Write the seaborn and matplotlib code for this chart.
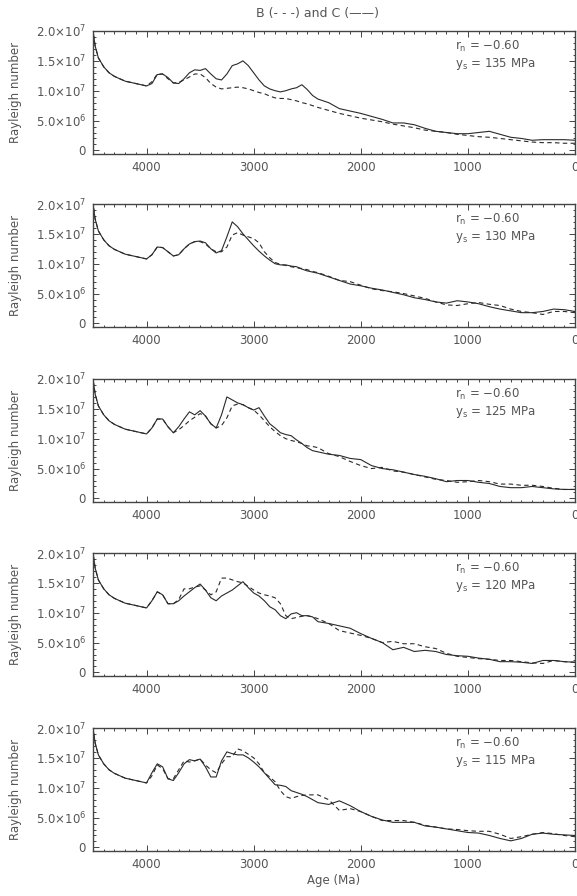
import seaborn as sns
from matplotlib import pyplot as plt
from matplotlib.ticker import MultipleLocator
import pandas as pd
import numpy as np

# ages in Ma (x axis)
AGE = [4500, 4480, 4450, 4400, 4350, 4300, 4200, 4100, 4000,
       3950, 3900, 3850, 3800, 3750, 3700, 3650, 3600, 3550, 3500,
       3450, 3400, 3350, 3300, 3250, 3200, 3150, 3100, 3050, 3000,
       2950, 2900, 2850, 2800, 2750, 2700, 2650, 2600, 2550, 2500,
       2450, 2400,
       2300, 2200, 2100, 2000, 1900, 1800, 1700, 1600, 1500, 1400,
       1300, 1200, 1100, 1000, 900, 800, 700, 600, 500, 400,
       300, 200, 100, 0]

# Rayleigh number, units of 1e7
HEAD = [2.00, 1.75, 1.55, 1.40, 1.30, 1.24, 1.16, 1.12, 1.08]

c_135 = HEAD + [1.12, 1.27, 1.28, 1.22, 1.13, 1.12, 1.20, 1.30, 1.35, 1.34,
                1.37, 1.28, 1.20, 1.18, 1.28, 1.42, 1.45, 1.50, 1.42, 1.30,
                1.18, 1.08, 1.03, 1.00, 0.98, 1.00, 1.03, 1.05, 1.10, 1.02,
                0.92, 0.86,
                0.80, 0.70, 0.66, 0.62, 0.57, 0.52, 0.46, 0.46, 0.43, 0.37,
                0.32, 0.30, 0.28, 0.28, 0.30, 0.32, 0.27, 0.22, 0.20, 0.17,
                0.18, 0.18, 0.18, 0.17]
b_135 = HEAD + [1.15, 1.28, 1.28, 1.20, 1.13, 1.14, 1.18, 1.23, 1.28, 1.28,
                1.22, 1.12, 1.06, 1.03, 1.04, 1.05, 1.06, 1.05, 1.03, 1.00,
                0.97, 0.95, 0.91, 0.88, 0.87, 0.87, 0.85, 0.83, 0.80, 0.78,
                0.75, 0.72,
                0.67, 0.62, 0.58, 0.54, 0.51, 0.48, 0.44, 0.41, 0.38, 0.34,
                0.32, 0.30, 0.27, 0.25, 0.23, 0.22, 0.20, 0.18, 0.16, 0.14,
                0.13, 0.13, 0.12, 0.12]

c_130 = HEAD + [1.15, 1.28, 1.27, 1.20, 1.13, 1.15, 1.25, 1.33, 1.37, 1.38,
                1.35, 1.25, 1.18, 1.22, 1.45, 1.70, 1.62, 1.50, 1.40, 1.30,
                1.21, 1.13, 1.06, 1.00, 0.98, 0.98, 0.96, 0.95, 0.91, 0.88,
                0.86, 0.84,
                0.78, 0.72, 0.66, 0.63, 0.59, 0.56, 0.52, 0.48, 0.43, 0.40,
                0.36, 0.34, 0.38, 0.36, 0.33, 0.28, 0.24, 0.21, 0.18, 0.18,
                0.20, 0.24, 0.23, 0.20]
b_130 = HEAD + [1.15, 1.28, 1.27, 1.20, 1.13, 1.15, 1.25, 1.33, 1.37, 1.37,
                1.33, 1.25, 1.20, 1.20, 1.28, 1.48, 1.52, 1.48, 1.45, 1.42,
                1.35, 1.20, 1.10, 1.02, 0.99, 0.97, 0.95, 0.93, 0.92, 0.90,
                0.87, 0.85,
                0.79, 0.72, 0.70, 0.64, 0.58, 0.55, 0.53, 0.50, 0.46, 0.42,
                0.36, 0.31, 0.30, 0.33, 0.35, 0.32, 0.30, 0.24, 0.20, 0.18,
                0.15, 0.20, 0.20, 0.18]

c_125 = HEAD + [1.18, 1.33, 1.33, 1.20, 1.10, 1.20, 1.33, 1.45, 1.40, 1.47,
                1.38, 1.25, 1.18, 1.40, 1.70, 1.65, 1.60, 1.57, 1.52, 1.48,
                1.52, 1.38, 1.25, 1.18, 1.10, 1.07, 1.05, 0.98, 0.92, 0.85,
                0.80, 0.78,
                0.74, 0.72, 0.67, 0.65, 0.55, 0.50, 0.48, 0.44, 0.40, 0.37,
                0.33, 0.28, 0.30, 0.30, 0.27, 0.25, 0.20, 0.18, 0.18, 0.20,
                0.18, 0.16, 0.15, 0.15]
b_125 = HEAD + [1.18, 1.33, 1.33, 1.20, 1.10, 1.15, 1.22, 1.30, 1.36, 1.42,
                1.38, 1.25, 1.18, 1.22, 1.35, 1.55, 1.58, 1.57, 1.52, 1.48,
                1.40, 1.30, 1.20, 1.12, 1.05, 1.00, 0.97, 0.95, 0.92, 0.88,
                0.87, 0.85,
                0.75, 0.70, 0.62, 0.55, 0.50, 0.52, 0.46, 0.44, 0.40, 0.36,
                0.32, 0.30, 0.27, 0.28, 0.30, 0.28, 0.24, 0.24, 0.22, 0.22,
                0.20, 0.17, 0.15, 0.15]

c_120 = HEAD + [1.20, 1.35, 1.30, 1.15, 1.15, 1.20, 1.28, 1.35, 1.42, 1.48,
                1.38, 1.25, 1.20, 1.28, 1.33, 1.38, 1.45, 1.52, 1.42, 1.33,
                1.28, 1.20, 1.10, 1.05, 0.95, 0.90, 0.98, 1.00, 0.95, 0.95,
                0.93, 0.85,
                0.82, 0.78, 0.74, 0.65, 0.57, 0.50, 0.38, 0.42, 0.35, 0.37,
                0.35, 0.30, 0.28, 0.27, 0.24, 0.22, 0.18, 0.18, 0.17, 0.15,
                0.20, 0.20, 0.18, 0.17]
b_120 = HEAD + [1.20, 1.35, 1.30, 1.15, 1.15, 1.22, 1.40, 1.40, 1.43, 1.45,
                1.38, 1.30, 1.35, 1.58, 1.58, 1.55, 1.52, 1.50, 1.44, 1.38,
                1.33, 1.30, 1.28, 1.25, 1.15, 0.95, 0.90, 0.92, 0.94, 0.95,
                0.93, 0.90,
                0.82, 0.70, 0.66, 0.62, 0.57, 0.50, 0.52, 0.48, 0.48, 0.43,
                0.40, 0.32, 0.27, 0.25, 0.23, 0.22, 0.20, 0.20, 0.18, 0.16,
                0.15, 0.20, 0.18, 0.17]

c_115 = HEAD + [1.25, 1.40, 1.35, 1.15, 1.12, 1.25, 1.40, 1.47, 1.45, 1.48,
                1.35, 1.18, 1.18, 1.45, 1.60, 1.57, 1.55, 1.55, 1.50, 1.43,
                1.35, 1.25, 1.15, 1.05, 1.04, 1.02, 0.95, 0.92, 0.89, 0.85,
                0.80, 0.75,
                0.72, 0.78, 0.70, 0.60, 0.52, 0.46, 0.42, 0.42, 0.42, 0.36,
                0.34, 0.31, 0.28, 0.25, 0.24, 0.20, 0.15, 0.11, 0.15, 0.22,
                0.24, 0.22, 0.21, 0.20]
b_115 = HEAD + [1.20, 1.38, 1.32, 1.15, 1.15, 1.30, 1.45, 1.43, 1.45, 1.48,
                1.38, 1.30, 1.25, 1.40, 1.52, 1.52, 1.65, 1.62, 1.56, 1.50,
                1.40, 1.25, 1.18, 1.10, 0.95, 0.85, 0.82, 0.85, 0.87, 0.88,
                0.88, 0.88,
                0.80, 0.62, 0.65, 0.60, 0.52, 0.45, 0.45, 0.45, 0.42, 0.37,
                0.34, 0.31, 0.30, 0.28, 0.27, 0.27, 0.22, 0.15, 0.18, 0.22,
                0.25, 0.23, 0.20, 0.18]

YIELD = [135, 130, 125, 120, 115]
B_RUNS = [b_135, b_130, b_125, b_120, b_115]
C_RUNS = [c_135, c_130, c_125, c_120, c_115]

YTICKS = [0, 5e6, 1e7, 1.5e7, 2e7]
YTICK_LABELS = ['0', r'$5.0{\times}10^{6}$', r'$1.0{\times}10^{7}$',
                r'$1.5{\times}10^{7}$', r'$2.0{\times}10^{7}$']
XTICKS = [4000, 3000, 2000, 1000, 0]

sns.set_style('ticks')
plt.rcParams['font.family'] = ['DejaVu Sans']
plt.rcParams['mathtext.fontset'] = 'dejavusans'
plt.rcParams['mathtext.default'] = 'regular'

TXT = '#555555'
LINE = '#2a2a2a'

W, H = 577, 896
fig = plt.figure(figsize=(W / 100, H / 100), dpi=100)

tops = [31, 204, 379, 553, 728]
ax_h = 123
left, right = 93, 575

for i, (ys, b, c) in enumerate(zip(YIELD, B_RUNS, C_RUNS)):
    ax = fig.add_axes([left / W, 1 - (tops[i] + ax_h) / H,
                       (right - left) / W, ax_h / H])
    df = pd.DataFrame({
        'age': AGE * 2,
        'ra': np.array(b + c) * 1e7,
        'model': ['B'] * len(AGE) + ['C'] * len(AGE),
    })
    sns.lineplot(data=df, x='age', y='ra', style='model',
                 dashes={'B': (4, 3), 'C': ''}, color=LINE, linewidth=0.8,
                 estimator=None, legend=False, ax=ax)

    ax.set_xlim(4500, 0)
    ax.set_ylim(-6e5, 2.0e7)
    ax.set_xticks(XTICKS)
    ax.set_xticklabels([str(t) for t in XTICKS])
    ax.set_yticks(YTICKS)
    ax.set_yticklabels(YTICK_LABELS)
    ax.xaxis.set_minor_locator(MultipleLocator(100))
    ax.yaxis.set_minor_locator(MultipleLocator(1e6))
    ax.tick_params(which='both', direction='in', top=True, right=True,
                   colors='#444444', labelcolor=TXT, labelsize=8.5, width=0.7)
    ax.tick_params(which='major', length=4, pad=5)
    ax.tick_params(which='minor', length=1.8)
    for s in ax.spines.values():
        s.set_color('#444444')
        s.set_linewidth(1.0)

    ax.set_ylabel('Rayleigh number', color=TXT, fontsize=8.5)
    ax.yaxis.set_label_coords(-0.148, 0.5)
    ax.set_xlabel('')

    ax.text(0.752, 0.875, 'r$_{\\rm n}$ = \u22120.60', transform=ax.transAxes,
            color=TXT, fontsize=8.5, va='center')
    ax.text(0.752, 0.735, 'y$_{\\rm s}$ = %d MPa' % ys, transform=ax.transAxes,
            color=TXT, fontsize=8.5, va='center')

ax.set_xlabel('Age (Ma)', color=TXT, fontsize=8.5, labelpad=2)

fig.text(318 / W, 1 - 14 / H, 'B (- - -) and C (\u2014\u2014)', ha='center',
         va='center', color=TXT, fontsize=9)

plt.savefig('out.png', dpi=100)
